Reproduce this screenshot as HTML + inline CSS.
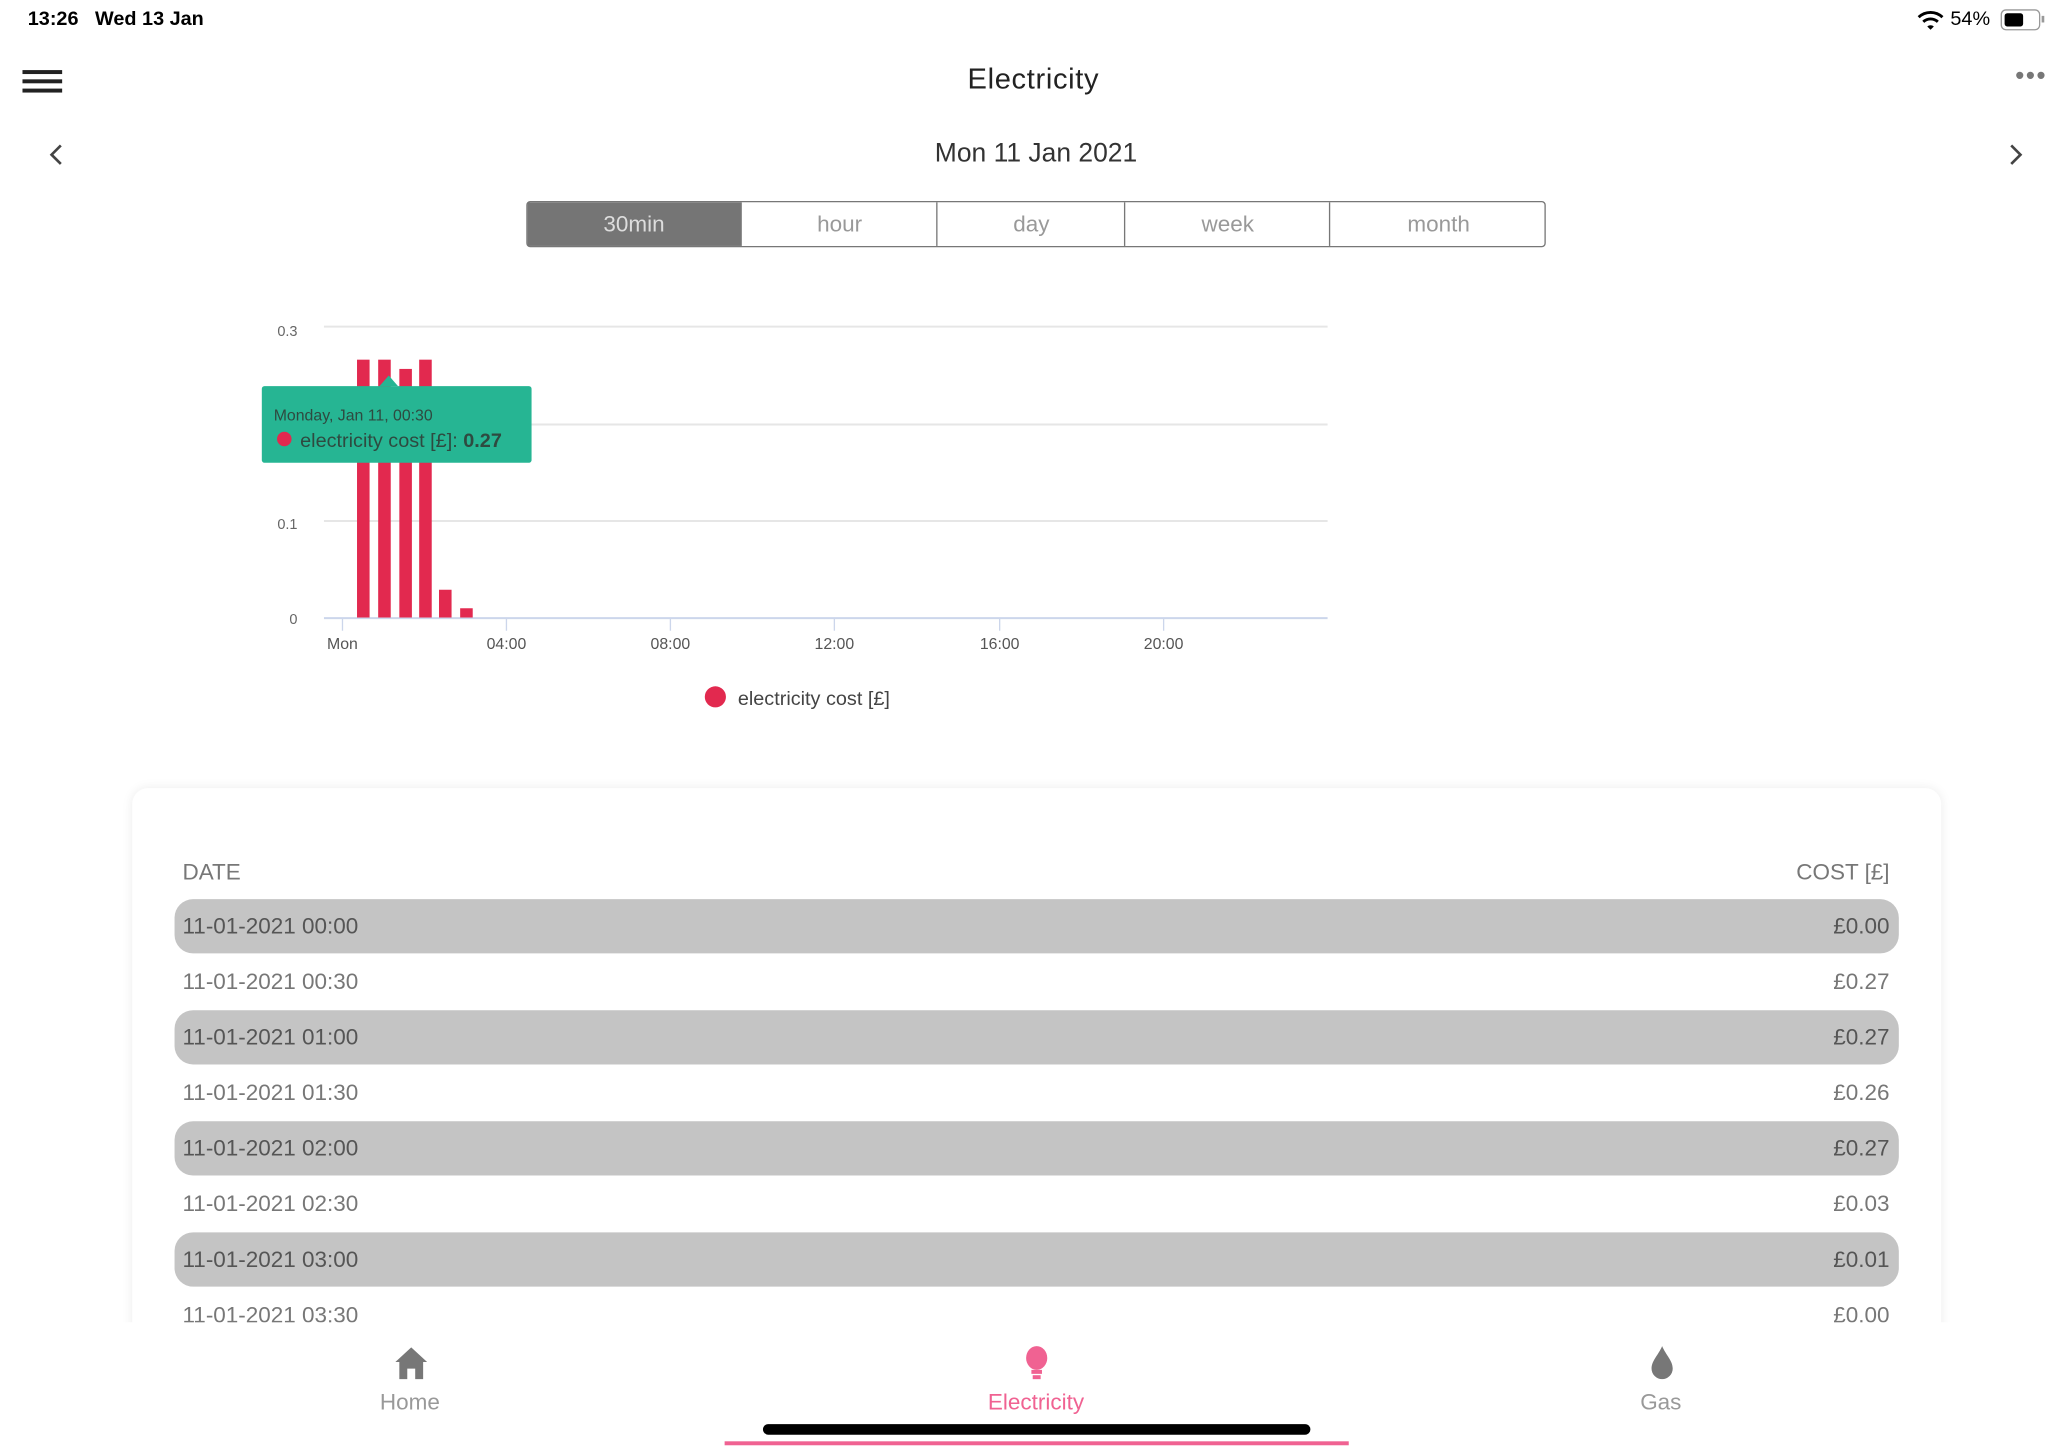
<!DOCTYPE html>
<html><head><meta charset="utf-8"><style>
html,body{margin:0;padding:0;width:2072px;height:1447px;overflow:hidden;background:#fff;}
#w{position:absolute;left:0;top:0;width:1567px;height:1095px;transform:scale(1.3223);transform-origin:0 0;font-family:"Liberation Sans",sans-serif;}
.a{position:absolute;white-space:nowrap;}
.seg{position:absolute;top:153px;height:33px;line-height:33px;text-align:center;color:#999;font-size:17px;border-left:1px solid #777;}
.row{position:absolute;left:132px;width:1304px;height:41px;border-radius:14px;background:#c4c4c4;}
.rt{position:absolute;left:138px;font-size:17px;color:#555;}
.rc{position:absolute;right:138px;font-size:17px;color:#555;text-align:right;}
</style></head><body><div id="w">
<div class="a" style="left:21px;top:6px;font-size:15px;font-weight:bold;color:#000">13:26&nbsp;&nbsp; Wed 13 Jan</div>
<svg class="a" style="left:1450px;top:8px" width="20" height="15" viewBox="0 0 20 15"><path d="M1 5 A13 13 0 0 1 19 5" stroke="#000" stroke-width="2.2" fill="none"/><path d="M4.5 8.5 A8 8 0 0 1 15.5 8.5" stroke="#000" stroke-width="2.2" fill="none"/><path d="M7.5 12 L10 14.5 L12.5 12 A4 4 0 0 0 7.5 12Z" fill="#000"/></svg>
<div class="a" style="left:1475px;top:6px;font-size:15px;color:#000">54%</div>
<div class="a" style="left:1513px;top:7px;width:28px;height:14px;border:1px solid #999;border-radius:4px"><div style="position:absolute;left:2px;top:2px;width:14px;height:10px;background:#000;border-radius:2px"></div></div>
<div class="a" style="left:1544px;top:12px;width:2px;height:5px;background:#999"></div>
<div class="a" style="left:17px;top:53px;width:30px;height:3px;background:#222"></div>
<div class="a" style="left:17px;top:60px;width:30px;height:3px;background:#222"></div>
<div class="a" style="left:17px;top:67px;width:30px;height:3px;background:#222"></div>
<div class="a" style="left:0;width:1563px;top:47px;text-align:center;font-size:22px;color:#222;letter-spacing:0.5px">Electricity</div>
<div class="a" style="left:1524px;top:47px;font-size:20px;color:#777;letter-spacing:1px">•••</div>
<svg class="a" style="left:35px;top:108px" width="14" height="18"><path d="M11 2 L4 9 L11 16" stroke="#444" stroke-width="2" fill="none"/></svg>
<svg class="a" style="left:1518px;top:108px" width="14" height="18"><path d="M3 2 L10 9 L3 16" stroke="#444" stroke-width="2" fill="none"/></svg>
<div class="a" style="left:0;width:1567px;top:105px;text-align:center;font-size:20px;color:#333">Mon 11 Jan 2021</div>
<div class="a" style="left:398px;top:152px;width:769px;height:33px;border:1px solid #777;border-radius:3px"></div>
<div class="seg" style="left:399px;width:161px;background:#757575;color:#ddd;border-left:none">30min</div>
<div class="seg" style="left:560px;width:148px">hour</div>
<div class="seg" style="left:708px;width:142px">day</div>
<div class="seg" style="left:850px;width:155px">week</div>
<div class="seg" style="left:1005px;width:164px">month</div>
<svg class="a" style="left:0;top:0" width="1563" height="560" font-family="Liberation Sans,sans-serif">
<g stroke="#e6e6e6" stroke-width="1.5"><line x1="245" x2="1004" y1="247" y2="247"/><line x1="245" x2="1004" y1="321" y2="321"/><line x1="245" x2="1004" y1="394" y2="394"/></g>
<line x1="245" x2="1004" y1="467.5" y2="467.5" stroke="#ccd6eb" stroke-width="1.5"/>
<g stroke="#ccd6eb" stroke-width="1"><line x1="259" x2="259" y1="467" y2="477"/><line x1="383" x2="383" y1="467" y2="477"/><line x1="507" x2="507" y1="467" y2="477"/><line x1="631" x2="631" y1="467" y2="477"/><line x1="756" x2="756" y1="467" y2="477"/><line x1="880" x2="880" y1="467" y2="477"/></g>
<g font-size="11" fill="#666" text-anchor="end"><text x="225" y="254">0.3</text><text x="225" y="400">0.1</text><text x="225" y="472">0</text></g>
<g font-size="12" fill="#555" text-anchor="middle"><text x="259" y="491">Mon</text><text x="383" y="491">04:00</text><text x="507" y="491">08:00</text><text x="631" y="491">12:00</text><text x="756" y="491">16:00</text><text x="880" y="491">20:00</text></g>
<g fill="#e2294f"><rect x="270" y="272" width="9.5" height="195"/><rect x="286" y="272" width="9.5" height="195"/><rect x="302" y="279" width="9.5" height="188"/><rect x="317" y="272" width="9.5" height="195"/><rect x="332" y="446" width="9.5" height="21"/><rect x="348" y="460" width="9.5" height="7"/></g>
<path d="M287 292 L294 284 L301 292Z" fill="#26b593"/>
<rect x="198" y="292" width="204" height="58" fill="#26b593" rx="2"/>
<text x="207" y="318" font-size="12" fill="#2e4a40">Monday, Jan 11, 00:30</text>
<circle cx="215" cy="332" r="5.5" fill="#e2294f"/>
<text x="227" y="338" font-size="15" fill="#2e4a40">electricity cost [£]: <tspan font-weight="bold">0.27</tspan></text>
<circle cx="541" cy="527" r="8" fill="#e2294f"/>
<text x="558" y="533" font-size="15" fill="#444">electricity cost [£]</text>
</svg>
<div class="a" style="left:100px;top:596px;width:1368px;height:420px;background:#fff;border-radius:12px;box-shadow:0 0 8px rgba(0,0,0,0.08)"></div>
<div class="a" style="left:138px;top:650px;font-size:17px;color:#777">DATE</div>
<div class="a" style="right:138px;top:650px;font-size:17px;color:#777">COST [£]</div>
<div class="row" style="top:680px"></div><div class="row" style="top:764px"></div><div class="row" style="top:848px"></div><div class="row" style="top:932px"></div>
<div class="rt" style="top:691px">11-01-2021 00:00</div><div class="rc" style="top:691px">£0.00</div>
<div class="rt" style="top:733px;color:#777">11-01-2021 00:30</div><div class="rc" style="top:733px;color:#777">£0.27</div>
<div class="rt" style="top:775px">11-01-2021 01:00</div><div class="rc" style="top:775px">£0.27</div>
<div class="rt" style="top:817px;color:#777">11-01-2021 01:30</div><div class="rc" style="top:817px;color:#777">£0.26</div>
<div class="rt" style="top:859px">11-01-2021 02:00</div><div class="rc" style="top:859px">£0.27</div>
<div class="rt" style="top:901px;color:#777">11-01-2021 02:30</div><div class="rc" style="top:901px;color:#777">£0.03</div>
<div class="rt" style="top:943px">11-01-2021 03:00</div><div class="rc" style="top:943px">£0.01</div>
<div class="rt" style="top:985px;color:#777">11-01-2021 03:30</div><div class="rc" style="top:985px;color:#777">£0.00</div>
<div class="a" style="left:0;top:1000px;width:1567px;height:95px;background:#fff"></div>
<svg class="a" style="left:298px;top:1018px" width="26" height="26"><path d="M13 1 L25 12 L22 12 L22 25 L16 25 L16 17 L10 17 L10 25 L4 25 L4 12 L1 12Z" fill="#777"/></svg>
<svg class="a" style="left:773px;top:1017px" width="22" height="28"><ellipse cx="11" cy="10" rx="8" ry="9" fill="#f06292"/><rect x="7" y="19" width="8" height="3" fill="#f06292"/><rect x="8" y="23" width="6" height="3" fill="#f06292"/></svg>
<svg class="a" style="left:1246px;top:1017px" width="22" height="28"><path d="M11 1 C14 8 19 12 19 18 A8 8 0 0 1 3 18 C3 12 8 8 11 1Z" fill="#777"/></svg>
<div class="a" style="left:260px;width:100px;text-align:center;top:1051px;font-size:17px;color:#999">Home</div>
<div class="a" style="left:700px;width:167px;text-align:center;top:1051px;font-size:17px;color:#f06292">Electricity</div>
<div class="a" style="left:1206px;width:100px;text-align:center;top:1051px;font-size:17px;color:#999">Gas</div>
<div class="a" style="left:577px;top:1077px;width:414px;height:8px;border-radius:4px;background:#000"></div>
<div class="a" style="left:548px;top:1090px;width:472px;height:3px;background:#f06292"></div>
</div></body></html>
